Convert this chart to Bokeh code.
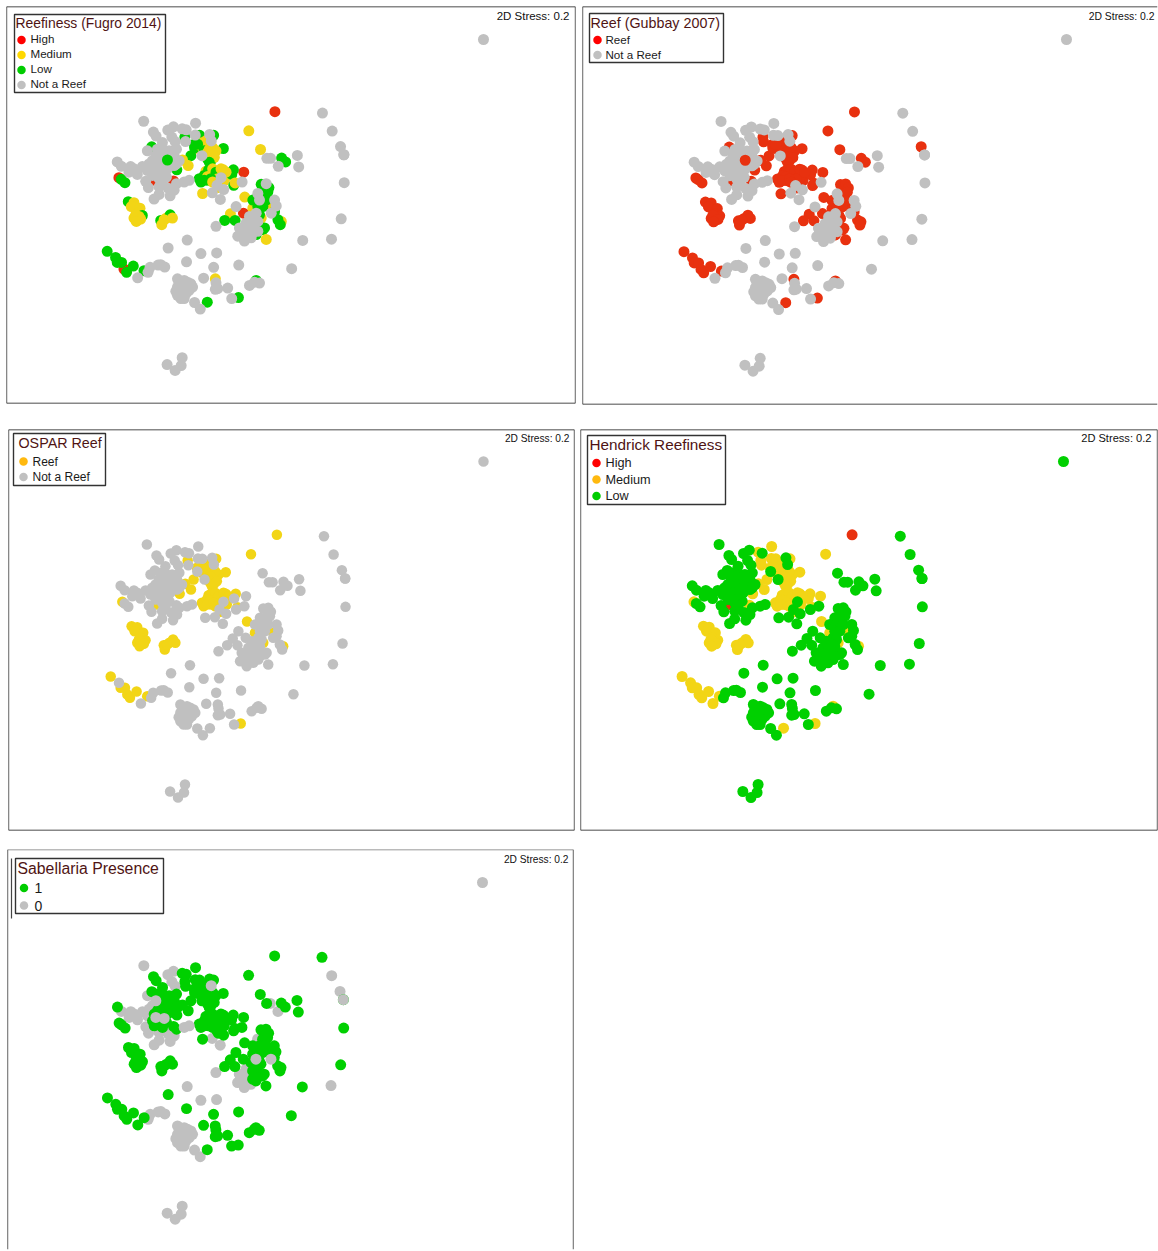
from bokeh.plotting import figure
from bokeh.layouts import column, row
from bokeh.models import Range1d, Label, Span, ColumnDataSource, BoxAnnotation
from bokeh.embed import file_html
from bokeh.resources import INLINE

# Shared ordination: every station sits at one (x, y); each code holds its class in the five schemes:
# Fugro (H/M/L/N), Gubbay (R/N), OSPAR (R/N), Hendrick (H/M/L), Sabellaria (1/0). Lower case = drawn on top.
SPARSE_X = [1179,556,698,727,752,762,762,763,754,725,639,606,478,513,532,543,576,588,566,623,627]
SPARSE_Y = [-189,31,35,90,137,162,162,247,357,419,423,509,89,146,173,173,172,184,197,164,199]
SPARSE_C = ["NNNL0","HRRH1","NNNL1","NNNL0","NRNL0","NNNL1","NNNLo","NNNL1","NNNL1","NNNL0","NNNL1","NNNL1",
            "MRRM1","MRNL1","NNNL1","NNNL0","LRNL1","LRNL1","NNNL0","NNNL1","NNNL1"]

ARC_X = [164,236,253,279,291,319,193,201,248,258,287,289,318,331,361,366,373]
ARC_Y = [60,87,77,83,86,66,93,105,108,122,108,122,102,103,100,120,103]
ARC_C = ["NNNL0","NNNL0","NNNL0","NNNM1","NNNL1","NNNM1","NNNL1","NNNL1","NNNL0","NNNL0","LRRM1","NRNM1",
         "NNNM1","LNNM1","NNNL1","NNNLo","LRRM1"]

UPPER_X = [315,340,352,330,305,350,402,380,370,355,345,365,338,316,280,297,263,335,345,360,370,355,325,365,350,375,360]
UPPER_Y = [130,125,118,145,165,135,143,150,160,175,165,172,165,141,178,195,208,135,150,145,140,155,130,180,165,170,185]
UPPER_C = ["LRRM1","MRRM1","MRRM1","MRRM1","LRRM1","MRRM1","LRRM1","MRRM1","MRRM1","LRRM1","MRRM1","LRRM1",
           "NNNL1","LRNL1","MRRM1","MRRM1","LRRM1","MRRM1","LRRM1","MRRM1","MRRM1","MRRM1","LRRM1","LRRM1","MRRM1","MRRM1","LRRM1"]

BLOB_X = [175,188,220,205,225,200,215,235,190,180,205,225,245,262,255,85,97,125,135,120,145,160,175,200,225,232,210,170,178,210,220,
          90,97,108,252,195,253,215,210,195,215,230,220,235,210,185,205,190,240,245,255,235,262,270]
BLOB_Y = [150,138,125,145,150,165,175,178,180,190,195,200,175,145,165,184,197,198,205,215,222,198,210,215,218,230,235,243,262,260,245,
          232,237,247,152,240,242,240,185,205,205,190,160,165,155,200,225,225,150,190,195,205,190,180]
BLOB_C = ["NNNL0","LRNL1","NNNL1","NNNL1","NNNL1","NNNLo","NNNL1","lrNL1","NNNL0","NNNL0","NNNL1","NNNL1","NNNL1","NNNL1","NNNL1",
          "NNNL1","NNNL0","NNNL0","NNNL0","NNNL0","NNNL0","NNNL0","NNNL0","NNNLo","NNNLo","NNNL1","NNNL1","NNNL0","NNNL0","NNNL0","NNNL1",
          "HRRM1","LRNL1","LRNL1","HRNH1","HRRH1","HRNM1","LRNL1","NNNL1","NNNL1","NNNL1","NNNL1","NNNL1","NNNL1","NNNL1","NNNL0","NNNL0","NNNL1",
          "NNNL1","NNNL1","NNNL1","NNNL1","NNNL1","NNNL1"]

LOWER_X = [195,210,237,255,243,262,285,300,340,369,383,403,393]
LOWER_Y = [297,283,264,270,287,250,245,240,280,278,255,268,298]
LOWER_C = ["NNNL0","NNNL0","NNNL0","NNNL0","NNNL0","NNNL1","NNNLo","NNNLo","MRNL1","NNNL0","NNNL1","NNNL1","NNNL0"]

BAND_X = [330,335,350,358,358,375,370,402,405,432,390,395,427,463,458,433,437,387,345,355,345,380,395,385,365,370,410]
BAND_Y = [235,245,212,208,240,225,205,208,240,208,215,232,222,215,245,255,248,262,225,228,240,215,205,235,235,245,215]
BAND_C = ["LRRM1","LRRM1","MRRM1","LRRM1","LRRM1","LRRM1","MRRM1","MRRM1","MRRM1","LRRM1","MRRM1","NRNL1","LRNM1","HRNM1","NNNL1","LRNL1","MRRM1","MRRM1",
          "LRRM1","MRRM1","LRRM1","LRRM1","MRRM1","MRRM1","LRRM1","MRRM1","MRRM1"]

WEST_X = [118,135,127,153,145,160,147,135,215,232,243,250,218,150,140,155,142,225]
WEST_Y = [305,308,320,325,340,347,360,355,362,355,345,355,375,350,345,358,365,360]
WEST_C = ["LRRM1","MRRM1","MRRM1","MRRM1","MRRM1","LRRM1","MRRM1","MRRM1","LRRM1","MRRM1","LRRM1","MRRM1","MRRM1","MRRM1","MRRM1","MRRM1","MRRM1","MRRM1"]

TAIL_X = [55,80,85,98,105,113,133,165,146,183,207,215,227,177]
TAIL_Y = [456,475,490,490,510,520,501,515,537,505,498,497,504,520]
TAIL_C = ["LRRM1","LRNM1","LRRM1","LRRM1","HRRM1","LRRM1","LRRM1","LRRM1","NNNM1","NNNL0","NNNL0","NNNL0","NNNL0","NNNL0"]

SOUTH_X = [294,237,335,382,292,373,448,343,265,285,295,310,265,280,300,275,285,260,275,292,378,380,385,378,415,427,447,316,333,354,500,480,495,510,270,290,270,305,283,275,265]
SOUTH_Y = [422,446,463,461,488,505,498,538,540,545,550,565,565,570,575,590,600,578,555,565,540,552,570,572,568,600,597,612,632,611,545,560,550,553,580,585,550,555,558,600,590]
SOUTH_C = ["NNNL0","NNNL1","NNNL0","NNNL0","NNNL1","NNNL1","NNNL1","NNNL1","NNNL0","NNNL0","NNNL0","NNNL0","NNNL0","NNNL0","NNNL0","NNNL0","NNNL0","NNNL0","NNNL0","NNNL0",
           "MRNL1","NNNL1","NNNL1","NNNL1","NNNL1","NNNL1","LRRM1","NNNL0","NNNL0","LRNM1","LRNM1","NNNL1","NNNL1","NNNL1",
           "NNNL0","NNNL0","NNNL0","NNNL0","NNNL0","NNNL0","NNNL0"]

EAST_X = [466,490,515,575,545,485,515,530,538,505,520,535,490,510,530,555,560,505,520,545,555,565,572,440,462,423,406,437,380,500,510,480,495,470,495,525,450,465,480,445,465,485,500,520,530,
          455,475,490,460,480,470,495,505,490,505]
EAST_Y = [291,325,355,365,325,350,252,250,262,280,280,275,300,300,300,300,318,320,320,340,335,360,375,320,340,342,362,362,380,340,345,350,360,370,380,385,385,395,405,410,425,415,405,390,420,
          395,390,400,410,385,410,390,395,375,365]
EAST_C = ["MRRM1","MRRM1","MRRM1","MRRM1","MRRM1","MRRM1","LRNL1","NRNL1","LRNL1","NNNL0","LRNL1","LRNL1","LRNL1","NNNL1","LRNL1","NNNL1","NNNL1","LRNL1","LRNL1","NNNLo","LRNL1","LRNL1","LRNL1",
          "NNNL1","HRNL1","MRNL1","LRNL1","LRNL1","NNNL0","NNNLo","LRNL1","NNNL0","LRNL1","NNNL0","LRNL1","LRNL1","NNNL0","NNNL0","NNNL0","NNNL0","NNNL0","NNNL0","LRNL1","LRNL1","MRNL1",
          "NNNL0","NNNL0","NNNL1","NNNL0","NNNL0","NNNL0","NNNL1","NNNL1","NNNL1","NNNL1"]

NORTH_X = [234,279,276,258]
NORTH_Y = [801,780,804,819]
NORTH_C = ["NNNL0","NNNL0","NNNL0","NNNL0"]

MDS_X = SPARSE_X+ARC_X+UPPER_X+BLOB_X+LOWER_X+BAND_X+WEST_X+TAIL_X+SOUTH_X+EAST_X+NORTH_X
MDS_Y = SPARSE_Y+ARC_Y+UPPER_Y+BLOB_Y+LOWER_Y+BAND_Y+WEST_Y+TAIL_Y+SOUTH_Y+EAST_Y+NORTH_Y
CODES = SPARSE_C+ARC_C+UPPER_C+BLOB_C+LOWER_C+BAND_C+WEST_C+TAIL_C+SOUTH_C+EAST_C+NORTH_C
assert len(MDS_X) == len(MDS_Y) == len(CODES), (len(MDS_X), len(MDS_Y), len(CODES))

RED, YEL, GRN, GRY = "#e8310f", "#f2d516", "#00d000", "#c0c0c0"
L_RED, L_YEL, L_ORG, L_GRN = "#ff0000", "#ffd800", "#ffb90f", "#00cc00"

PANELS = [
    dict(title="Reefiness (Fugro 2014)", col=0, frame=(6,6,575,403), fit=(483,39,1.0044,0.985), size=11,
         cls={"H":(RED,0),"M":(YEL,1),"L":(GRN,1),"N":(GRY,2)},
         items=[("High",L_RED),("Medium",L_YEL),("Low",L_GRN),("Not a Reef",GRY)],
         box=(14,14,165,92), title_at=(15,22), label_x=30, dot_x=21, rows=(39.5,54.5,69.5,84.5), lab_dy=1.5,
         tfs=13.9, lfs=11.6, stress=(569,16,11.5), sides="tlbr", margin=(5,0,0,5)),
    dict(title="Reef (Gubbay 2007)", col=1, frame=(582,6,1157,404), fit=(1066,39,1.021,0.987), size=11,
         cls={"R":(RED,0),"N":(GRY,1)},
         items=[("Reef",L_RED),("Not a Reef",GRY)],
         box=(589,13,723,62), title_at=(590,22), label_x=605, dot_x=597, rows=(39.5,54.5), lab_dy=1,
         tfs=14.3, lfs=11.6, stress=(1154,16,10.4), sides="tlb", margin=(5,0,0,5)),
    dict(title="OSPAR Reef", col=2, frame=(8,430,574,831), fit=(483,462,0.995,1.0), size=10.5,
         cls={"R":(YEL,0),"N":(GRY,1)},
         items=[("Reef",L_ORG),("Not a Reef",GRY)],
         box=(13,434,105,486), title_at=(18,443.5), label_x=32, dot_x=23, rows=(462,477.5), lab_dy=0,
         tfs=14.3, lfs=12, stress=(569,439,10.2), sides="tlbr", margin=(23,0,0,7)),
    dict(title="Hendrick Reefiness", col=3, frame=(580,430,1157,831), fit=(1063,462,1.018,1.0), size=11,
         cls={"H":(RED,0),"M":(YEL,1),"L":(GRN,2)},
         items=[("High",L_RED),("Medium",L_ORG),("Low",L_GRN)],
         box=(587,436,725,505), title_at=(589,444.5), label_x=605, dot_x=596, rows=(463.5,480,496.5), lab_dy=0,
         tfs=15.3, lfs=12.7, stress=(1151,439,11.1), sides="tlbr", margin=(23,0,0,4)),
    dict(title="Sabellaria Presence", col=4, frame=(7,850,573,1250), fit=(482,883,1.001,1.002), size=11,
         cls={"0":(GRY,0),"1":(GRN,1),"O":(GRY,2)},
         items=[("1",L_GRN),("0",GRY)],
         box=(15,859,163,914), title_at=(17,868.5), label_x=34, dot_x=23.5, rows=(888.5,906), lab_dy=0,
         tfs=15.8, lfs=14, stress=(568,860,10.2), sides="lr", margin=(17,0,0,6)),
]

def build(cfg):
    l, t, r, b = cfg["frame"]
    ox, oy, sx, sy = cfg["fit"]
    dx = lambda px: 1179 + 3*(px-ox)/sx
    dy = lambda py: -189 + 3*(py-oy)/sy
    p = figure(width=r-l+2, height=b-t+2, min_border=1, x_range=Range1d(dx(l), dx(r)), y_range=Range1d(dy(b), dy(t)),
               x_axis_location=None, y_axis_location=None, toolbar_location=None, output_backend="svg",
               background_fill_color="white", border_fill_color=None, margin=cfg["margin"])
    p.grid.visible = False
    p.outline_line_color = None
    # Draw order: class rank, then on-top flag, then station order
    order = []
    for i, code in enumerate(CODES):
        c = code[cfg["col"]]
        rank = cfg["cls"][c.upper()][1]
        order.append((1 if c.islower() else 0, rank, i))
    order.sort()
    idx = [o[2] for o in order]
    src = ColumnDataSource(dict(x=[MDS_X[i] for i in idx], y=[MDS_Y[i] for i in idx],
                                c=[cfg["cls"][CODES[i][cfg["col"]].upper()][0] for i in idx]))
    p.scatter("x", "y", source=src, size=cfg["size"], color="c", line_color=None)

    # frame lines
    edge = "#111111"
    for side, loc, dim in (("t", dy(t), "width"), ("b", dy(b), "width"), ("l", dx(l), "height"), ("r", dx(r), "height")):
        if side in cfg["sides"]:
            p.add_layout(Span(location=loc, dimension=dim, line_color=edge, line_width=1.3))
    if cfg["col"] == 4:
        p.add_layout(Span(location=dy(t), dimension="width", line_color="#777777", line_width=1.6))
        p.segment(x0=[dx(11)], y0=[dy(859)], x1=[dx(11)], y1=[dy(919)], line_color="#444444", line_width=1.2)

    # legend, placed by hand so box, rows and dots sit where the reference has them
    bl, bt, br, bb = cfg["box"]
    p.add_layout(BoxAnnotation(left=dx(bl), right=dx(br), top=dy(bt), bottom=dy(bb), fill_color=None,
                               line_color="#333333", line_alpha=1, line_width=1.4))
    tx, ty = cfg["title_at"]
    p.add_layout(Label(x=dx(tx), y=dy(ty), text=cfg["title"], text_align="left", text_baseline="middle",
                       text_font="Liberation Sans", text_font_size=f'{cfg["tfs"]}px', text_color="#4f1414"))
    for (name, col), ry in zip(cfg["items"], cfg["rows"]):
        p.scatter([dx(cfg["dot_x"])], [dy(ry)], size=8.5, color=col, line_color=None)
        p.add_layout(Label(x=dx(cfg["label_x"]), y=dy(ry-cfg["lab_dy"]), text=name, text_align="left", text_baseline="middle",
                           text_font="Liberation Sans", text_font_size=f'{cfg["lfs"]}px', text_color="#1a1a1a"))

    # stress note
    sxp, syp, fs = cfg["stress"]
    p.add_layout(Label(x=dx(sxp), y=dy(syp-0.5), text="2D Stress: 0.2", text_align="right", text_baseline="middle",
                       text_font="Liberation Sans", text_font_size=f"{fs}px", text_color="#111111"))
    return p

figs = [build(c) for c in PANELS]
page = column(row(figs[0], figs[1]), row(figs[2], figs[3]), figs[4], spacing=0)
open("out.html", "w").write(file_html(page, INLINE))
